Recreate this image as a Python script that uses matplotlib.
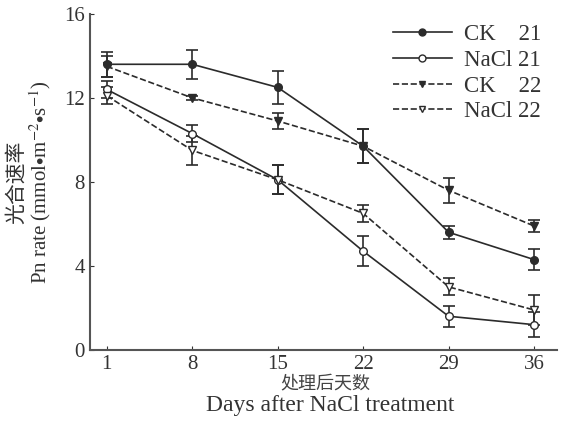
import matplotlib.pyplot as plt
from matplotlib.lines import Line2D
import numpy as np

plt.rcParams['font.family'] = ['Liberation Serif', 'Noto Sans CJK SC']
plt.rcParams['mathtext.fontset'] = 'stix'

days = ['1', '8', '15', '22', '29', '36']

ck21 = [13.6, 13.6, 12.5, 9.7, 5.6, 4.3]
ck21_err = [0.6, 0.7, 0.8, 0.8, 0.3, 0.5]
nacl21 = [12.4, 10.3, 8.1, 4.7, 1.6, 1.2]
nacl21_err = [0.4, 0.4, 0.7, 0.7, 0.5, 0.6]
ck22 = [13.5, 12.0, 10.9, 9.7, 7.6, 5.9]
ck22_err = [0.5, 0.1, 0.4, 0.8, 0.6, 0.3]
nacl22 = [12.1, 9.5, 8.1, 6.5, 3.0, 1.9]
nacl22_err = [0.4, 0.7, 0.7, 0.4, 0.4, 0.7]

labels = ['CK    21', 'NaCl 21', 'CK    22', 'NaCl 22']

fig = plt.figure(figsize=(5.61, 4.21), dpi=100)
ax = fig.add_axes([0.160, 0.169, 0.833, 0.798])

x = np.arange(len(days))
c = '#2b2b2b'
common = dict(color=c, linewidth=1.2, capsize=4, elinewidth=1.2, capthick=1.2, markersize=5.5)

ax.errorbar(x, ck21, yerr=ck21_err, fmt='-o', mfc=c, mec=c, **common)
ax.errorbar(x, nacl21, yerr=nacl21_err, fmt='-o', mfc='white', mec=c, **common)
ax.errorbar(x, ck22, yerr=ck22_err, fmt='--v', mfc=c, mec=c, **common)
ax.errorbar(x, nacl22, yerr=nacl22_err, fmt='--v', mfc='white', mec=c, **common)

handles = [
    Line2D([], [], color=c, ls='-', marker='o', mfc=c, mec=c, ms=5, lw=1.2),
    Line2D([], [], color=c, ls='-', marker='o', mfc='white', mec=c, ms=5, lw=1.2),
    Line2D([], [], color=c, ls='--', marker='v', mfc=c, mec=c, ms=5, lw=1.2),
    Line2D([], [], color=c, ls='--', marker='v', mfc='white', mec=c, ms=5, lw=1.2),
]

ax.set_xlim(-0.2, 5.27)
ax.set_ylim(0, 16)
ax.set_xticks(x)
ax.set_xticklabels(days)
ax.set_yticks([0, 4, 8, 12, 16])
ax.tick_params(direction='in', labelsize=15, colors='#333333', length=3)

for s in ['top', 'right']:
    ax.spines[s].set_visible(False)
for s in ['left', 'bottom']:
    ax.spines[s].set_color('#555555')
    ax.spines[s].set_linewidth(1.5)

ax.set_ylabel('光合速率\nPn rate (mmol$\\bullet$m$^{-2}$$\\bullet$s$^{-1}$)', fontsize=15,
              color='#333333', linespacing=1.0, labelpad=8)

fig.text(0.58, 0.089, '处理后天数', fontsize=13, color='#444444', ha='center', va='center')
fig.text(0.588, 0.038, 'Days after NaCl treatment', fontsize=17, color='#333333',
         ha='center', va='center')

ax.legend(handles, labels, loc='upper right', bbox_to_anchor=(1.01, 1.03), frameon=False,
          fontsize=16.5, handlelength=2.6, handletextpad=0.5, labelspacing=0.2,
          labelcolor='#333333')

fig.savefig('out.png', dpi=100, facecolor='white')
